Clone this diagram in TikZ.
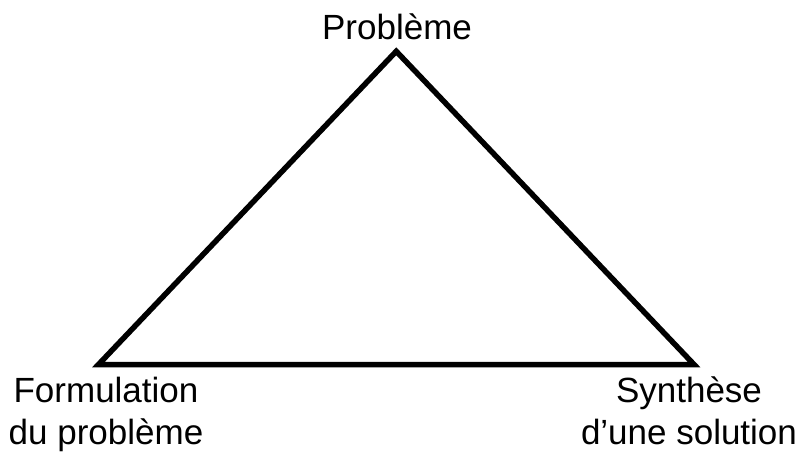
\documentclass[tikz,border=0pt]{standalone}
\usepackage{fontspec}
\setmainfont{Liberation Sans}
\tikzset{
  tri/.style={line width=5.5pt, line join=miter},
  lbl/.style={font=\fontsize{35}{42}\selectfont, align=center, inner sep=0pt}
}
\begin{document}
\begin{tikzpicture}[x=1pt,y=-1pt]
\useasboundingbox (0,0) rectangle (807,452);
\coordinate (top) at (396.25,51.3);
\coordinate (bl) at (98.5,364.5);
\coordinate (br) at (694,364.5);
\draw[tri] (top) -- (bl) -- (br) -- cycle;
\node[lbl, anchor=base] (p) at (397,40) {Problème};
\node[lbl, anchor=base] (f) at (106,444) {Formulation\\du problème};
\node[lbl, anchor=base] (s) at (689,444) {Synthèse\\d’une solution};
\end{tikzpicture}
\end{document}
